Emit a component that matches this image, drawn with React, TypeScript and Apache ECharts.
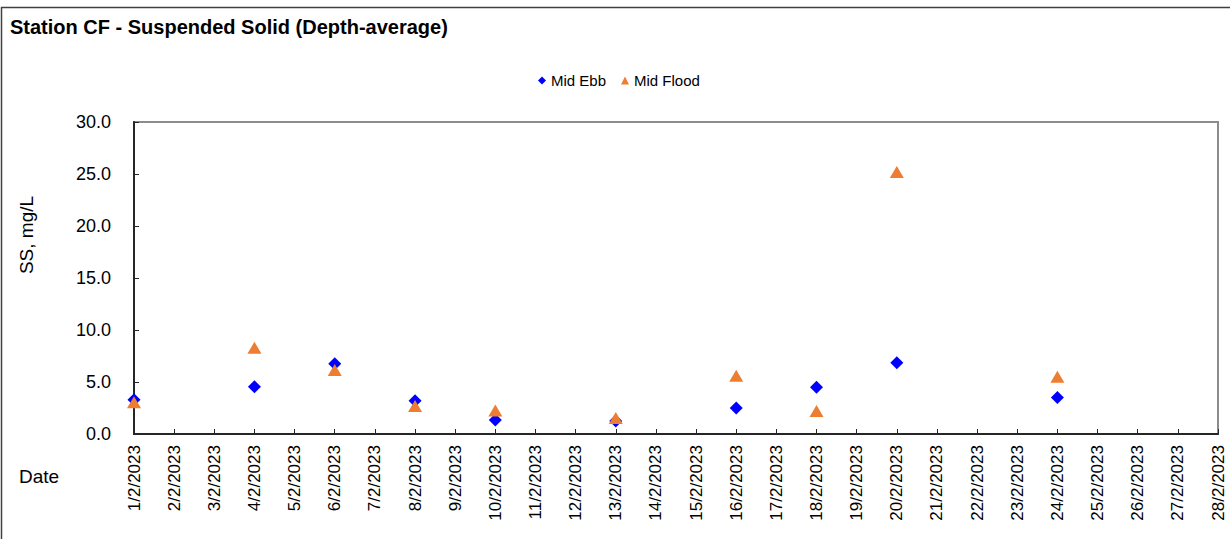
import React, { useEffect, useRef } from "react";
import * as echarts from "echarts";

const titleText = "Station CF - Suspended Solid (Depth-average)";
const dateLabels = [
  "1/2/2023", "2/2/2023", "3/2/2023", "4/2/2023", "5/2/2023", "6/2/2023", "7/2/2023",
  "8/2/2023", "9/2/2023", "10/2/2023", "11/2/2023", "12/2/2023", "13/2/2023", "14/2/2023",
  "15/2/2023", "16/2/2023", "17/2/2023", "18/2/2023", "19/2/2023", "20/2/2023", "21/2/2023",
  "22/2/2023", "23/2/2023", "24/2/2023", "25/2/2023", "26/2/2023", "27/2/2023", "28/2/2023",
];
const sampleDates = [
  "1/2/2023", "4/2/2023", "6/2/2023", "8/2/2023", "10/2/2023",
  "13/2/2023", "16/2/2023", "18/2/2023", "20/2/2023", "24/2/2023",
];
const midEbb = [3.3, 4.55, 6.75, 3.2, 1.35, 1.25, 2.5, 4.5, 6.85, 3.5];
const midFlood = [3.05, 8.3, 6.15, 2.7, 2.25, 1.55, 5.6, 2.2, 25.2, 5.5];
const yTicks = { min: 0, max: 30, interval: 5 };

const FONT = "'Liberation Sans', Arial, sans-serif";

export default function App() {
  const ref = useRef<HTMLDivElement>(null);
  useEffect(() => {
    if (!ref.current) return;
    const chart = echarts.init(ref.current, null, { renderer: "svg" });
    const pairs = (vals: number[]) => sampleDates.map((d, i) => [d, vals[i]]);
    chart.setOption({
      animation: false,
      backgroundColor: "#ffffff",
      textStyle: { fontFamily: FONT },
      title: {
        text: titleText,
        left: 5,
        top: 12,
        textStyle: { fontFamily: FONT, fontSize: 20, fontWeight: "bold", color: "#000" },
      },
      legend: {
        left: 533,
        top: 68,
        itemWidth: 8,
        itemHeight: 8,
        itemGap: 15,
        textStyle: { fontFamily: FONT, fontSize: 15, color: "#000" },
        data: [
          { name: "Mid Ebb", icon: "diamond", itemStyle: { opacity: 1 } },
          { name: "Mid Flood", icon: "triangle", itemStyle: { opacity: 1 } },
        ],
      },
      grid: {
        left: 134,
        top: 122,
        right: 12,
        bottom: 105,
        show: true,
        borderColor: "#8c8c8c",
        borderWidth: 2,
        containLabel: false,
      },
      xAxis: {
        type: "category",
        data: dateLabels,
        boundaryGap: false,
        axisLine: { lineStyle: { color: "#262626", width: 2 } },
        axisTick: { inside: true, length: 5, lineStyle: { color: "#262626" } },
        axisLabel: {
          rotate: 90,
          interval: 0,
          margin: 11,
          fontSize: 17,
          color: "#000",
          fontFamily: FONT,
        },
        splitLine: { show: false },
      },
      yAxis: {
        type: "value",
        min: yTicks.min,
        max: yTicks.max,
        interval: yTicks.interval,
        axisLine: { show: true, lineStyle: { color: "#262626", width: 2 } },
        axisTick: { show: true, inside: true, length: 5, lineStyle: { color: "#262626" } },
        axisLabel: {
          margin: 23,
          fontSize: 18,
          color: "#000",
          fontFamily: FONT,
          formatter: (v: number) => v.toFixed(1),
        },
        splitLine: { show: false },
      },
      graphic: [
        {
          type: "rect",
          shape: { x: 1.5, y: 7.5, width: 1260, height: 560 },
          style: { fill: "none", stroke: "#404040", lineWidth: 1.5 },
          silent: true,
        },
        {
          type: "text",
          x: 26,
          y: 235,
          rotation: Math.PI / 2,
          style: {
            text: "SS, mg/L",
            fontFamily: FONT,
            fontSize: 19,
            fill: "#000",
            align: "center",
            verticalAlign: "middle",
          },
        },
        {
          type: "text",
          x: 19,
          y: 476,
          style: {
            text: "Date",
            fontFamily: FONT,
            fontSize: 19,
            fill: "#000",
            align: "left",
            verticalAlign: "middle",
          },
        },
      ],
      series: [
        {
          name: "Mid Ebb",
          type: "scatter",
          symbol: "diamond",
          symbolSize: [13, 13],
          itemStyle: { color: "#0000ff", opacity: 1 },
          data: pairs(midEbb),
          z: 2,
        },
        {
          name: "Mid Flood",
          type: "scatter",
          symbol: "triangle",
          symbolSize: [14, 12],
          itemStyle: { color: "#ed7d31", opacity: 1 },
          data: pairs(midFlood),
          z: 3,
        },
      ],
    });
    return () => chart.dispose();
  }, []);
  return (
    <div
      ref={ref}
      style={{ position: "absolute", left: 0, top: 0, width: 1230, height: 539 }}
    />
  );
}
